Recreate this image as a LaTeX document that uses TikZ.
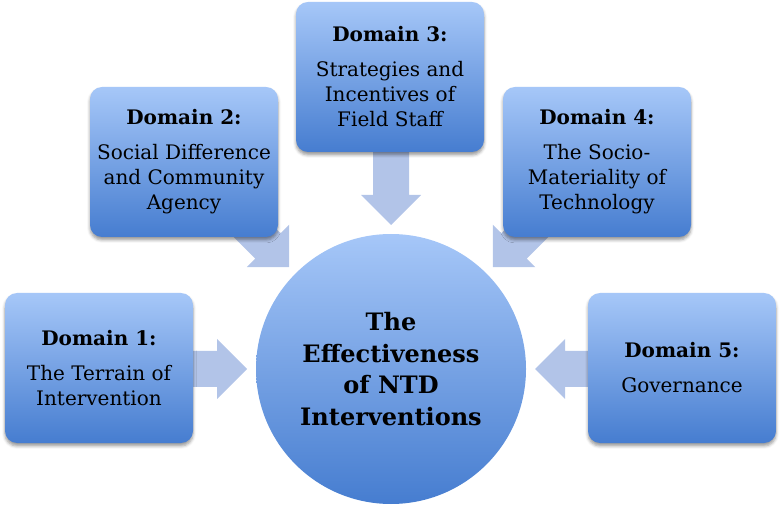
\documentclass[tikz,border=0pt]{standalone}
\usepackage{fontspec}
\setmainfont{DejaVu Serif}
\usetikzlibrary{calc,shadows.blur}

\definecolor{boxtop}{RGB}{166,199,248}
\definecolor{boxbot}{RGB}{70,125,208}
\definecolor{arrowblue}{RGB}{178,196,232}

\tikzset{
  domainbox/.style={rounded corners=12pt, top color=boxtop, bottom color=boxbot,
    minimum width=188pt, minimum height=150pt, inner sep=0pt, align=center,
    font=\fontsize{20}{25}\selectfont,
    blur shadow={shadow xshift=0pt, shadow yshift=-3pt, shadow blur radius=3pt, shadow opacity=40}},
  hubnode/.style={circle, minimum size=270pt, inner sep=0pt, top color=boxtop, bottom color=boxbot,
    align=center, font=\bfseries\fontsize{24}{31.5}\selectfont},
  arrowfill/.style={fill=arrowblue}
}

% block arrow pointing at the hub from direction #1
\newcommand\feedarrow[1]{%
  \fill[arrowfill] ($(hub)+(#1:219)+(#1+90:18)$) -- ($(hub)+(#1:174)+(#1+90:18)$)
    -- ($(hub)+(#1:174)+(#1+90:30)$) -- ($(hub)+(#1:144)$)
    -- ($(hub)+(#1:174)+(#1-90:30)$) -- ($(hub)+(#1:174)+(#1-90:18)$)
    -- ($(hub)+(#1:219)+(#1-90:18)$) -- cycle;}

\begin{document}
\begin{tikzpicture}[x=1pt,y=1pt]
\useasboundingbox (0,0) rectangle (781,514);

\node[hubnode] (hub) at (391,145) {The\\Effectiveness\\of NTD\\Interventions};

\foreach \a in {0,45,90,135,180} {\feedarrow{\a}}

\node[domainbox] (d1) at (99,146) {\textbf{Domain 1:}\\[10pt]The Terrain of\\Intervention};
\node[domainbox] (d2) at (184,352) {\textbf{Domain 2:}\\[10pt]Social Difference\\and Community\\Agency};
\node[domainbox] (d3) at (390,437) {\textbf{Domain 3:}\\[10pt]Strategies and\\Incentives of\\Field Staff};
\node[domainbox] (d4) at (597,352) {\textbf{Domain 4:}\\[10pt]The Socio-\\Materiality of\\Technology};
\node[domainbox] (d5) at (682,146) {\textbf{Domain 5:}\\[10pt]Governance};
\end{tikzpicture}
\end{document}
